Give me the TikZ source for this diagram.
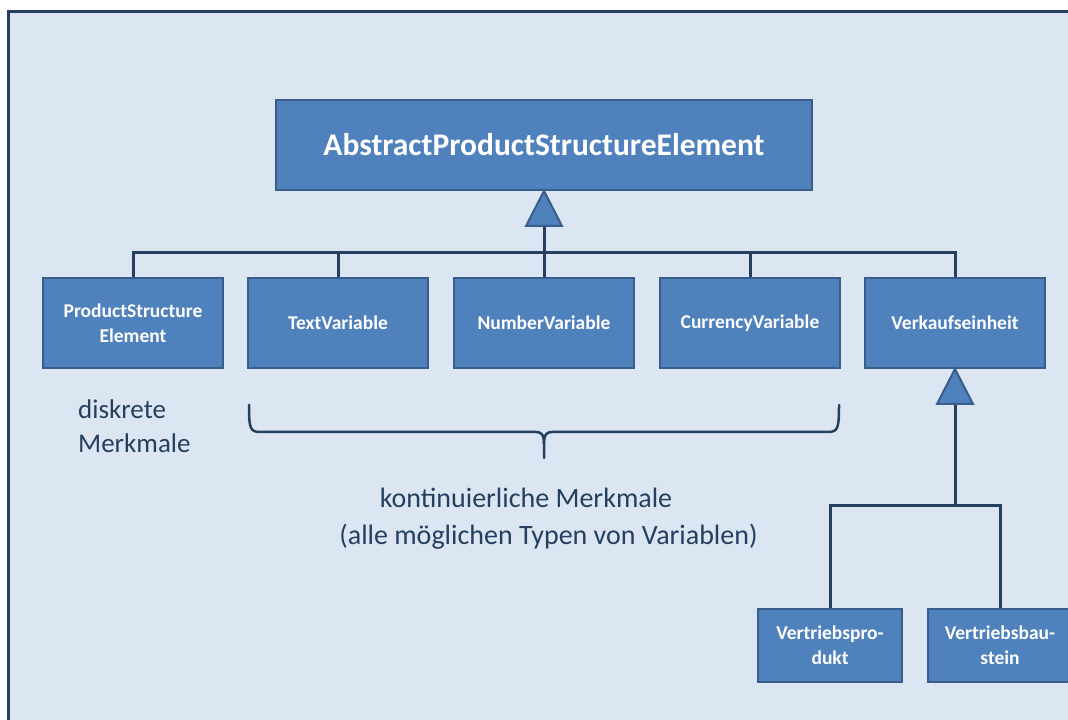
\documentclass[tikz,border=0pt]{standalone}
\usepackage{fontspec}
\setmainfont{Carlito}
\usetikzlibrary{calc}
\definecolor{bgfill}{HTML}{DCE6F2}
\definecolor{frameC}{HTML}{243F60}
\definecolor{boxfill}{HTML}{4F81BD}
\definecolor{boxline}{HTML}{385D8A}
\definecolor{connC}{HTML}{243F60}
\definecolor{labC}{HTML}{243F60}
\tikzset{
  umlbox/.style={draw=boxline, fill=boxfill, line width=2pt, inner sep=0pt,
    text=white, align=center, font=\bfseries\fontsize{19.5}{25}\selectfont},
  rowbox/.style={umlbox, minimum width=180pt, minimum height=90pt},
  lowbox/.style={umlbox, minimum width=144pt, minimum height=73pt},
  topbox/.style={umlbox, minimum width=536pt, minimum height=90pt,
    font=\bfseries\fontsize{31.5}{38}\selectfont},
  conn/.style={draw=connC, line width=3pt},
  inherit/.style={draw=boxline, fill=boxfill, line width=2pt, line join=miter},
  lab/.style={text=labC, inner sep=0pt, font=\fontsize{27}{34}\selectfont},
  biglab/.style={lab, font=\fontsize{28}{35}\selectfont},
  bracestyle/.style={draw=connC, line width=2.5pt, line cap=round}
}
\begin{document}
\begin{tikzpicture}[x=1pt,y=1pt]
\clip (0,0) rectangle (1068,720);
\fill[white] (0,0) rectangle (1068,720);
\draw[draw=frameC, fill=bgfill, line width=3pt] (8.5,708.5) rectangle (1090,-20);

\node[topbox] (top) at (544,575) {AbstractProductStructureElement};
\node[rowbox] (pse) at (133,397) {ProductStructure\\Element};
\node[rowbox] (tv) at (338,397) {TextVariable};
\node[rowbox] (nv) at (544,397) {NumberVariable};
\node[rowbox] (cv) at (750,397) {CurrencyVariable};
\node[rowbox] (vk) at (955,397) {Verkaufseinheit};
\node[lowbox] (vp) at (830,74.5) {Vertriebspro-\\dukt};
\node[lowbox] (vb) at (1000,74.5) {Vertriebsbau-\\stein};

% upper inheritance
\coordinate (tb1) at ($(top.south)+(0,-35)$);
\coordinate (j1) at ($(tb1)+(0,-27)$);
\draw[conn] (tb1) -- (nv.north);
\draw[conn] (pse.north) |- (j1) -| (vk.north);
\draw[conn] (tv.north) -- (tv.north |- j1);
\draw[conn] (cv.north) -- (cv.north |- j1);
\draw[inherit] (top.south) -- ($(tb1)+(18,0)$) -- ($(tb1)+(-18,0)$) -- cycle;

% lower inheritance
\coordinate (tb2) at ($(vk.south)+(0,-35)$);
\coordinate (j2) at ($(tb2)+(0,-102)$);
\draw[conn] (tb2) -- (j2);
\draw[conn] (vp.north) |- (j2) -| (vb.north);
\draw[inherit] (vk.south) -- ($(tb2)+(18,0)$) -- ($(tb2)+(-18,0)$) -- cycle;

% brace
\coordinate (bl) at (249,315);
\coordinate (br) at (839,315);
\coordinate (btip) at (544,262);
\draw[bracestyle] (bl) .. controls (249,292) and (250,288) .. (260,288)
  -- (536,288) .. controls (542,288) and (544,285) .. (544,276) -- (btip);
\draw[bracestyle] (br) .. controls (839,292) and (838,288) .. (828,288)
  -- (552,288) .. controls (546,288) and (544,285) .. (544,276);

% labels
\node[lab, anchor=base west] (d1) at (78,301) {diskrete};
\node[lab, anchor=base west] (d2) at (78,267) {Merkmale};
\node[biglab, anchor=base] (k1) at (526,212) {kontinuierliche Merkmale};
\node[biglab, anchor=base] (k2) at (548.5,175) {(alle möglichen Typen von Variablen)};
\end{tikzpicture}
\end{document}
